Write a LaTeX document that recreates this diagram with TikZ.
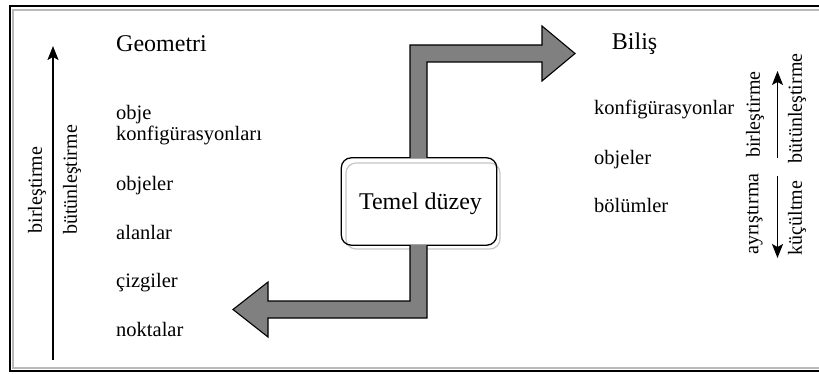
\documentclass[tikz,border=0pt]{standalone}
\usepackage{fontspec}
\setmainfont{Liberation Serif}
\usetikzlibrary{arrows.meta,calc}
\begin{document}
\begin{tikzpicture}[x=1pt,y=-1pt,
  big/.style={font=\fontsize{24}{26}\selectfont, inner sep=0pt},
  lbl/.style={font=\fontsize{20.5}{22}\selectfont, inner sep=0pt, anchor=base west},
  rot/.style={font=\fontsize{20}{22}\selectfont, inner sep=0pt, rotate=90},
  blockarrow/.style={draw=black, line width=1.1pt, fill=black!50, line join=miter},
  thinarrow/.style={line width=1.3pt, -{Stealth[length=14pt,width=11pt,inset=3pt]}}
]
\useasboundingbox (0,0) rectangle (819,374);
% frame
\draw[gray!55, line width=1.6pt] (819,10) -- (13,10) -- (13,368) -- (819,368);
\draw[black, line width=1.4pt] (819,6) -- (10,6) -- (10,371) -- (819,371);

% central box
\node[draw=none, fill=white, rounded corners=10pt, minimum width=155pt, minimum height=87pt] (box) at (419,201.5) {};
\draw[gray!45, line width=1.2pt, rounded corners=10pt] (346,163) rectangle (500,249);
\draw[black, line width=1.3pt, rounded corners=10pt] (box.north west) rectangle (box.south east);
\node[big, anchor=base] (temel) at (420.5,209.3) {Temel düzey};

% block arrows
\draw[blockarrow] ($(box.north)+(-9,0)$) -- (410,45) -- (542,45) -- (542,26) -- (575,53.5) -- (542,81) -- (542,62) -- (427,62) -- ($(box.north)+(8,0)$);
\draw[blockarrow] ($(box.south)+(8,0)$) -- (427,318) -- (268,318) -- (268,337) -- (233,309.5) -- (268,282) -- (268,301) -- (410,301) -- ($(box.south)+(-9,0)$);

% left column
\node[big, anchor=base west] (geo) at (116,51.7) {Geometri};
\node[lbl] (oc1) at (116,120) {obje};
\node[lbl] (oc2) at (116,140.7) {konfigürasyonları};
\node[lbl] (lobj) at (116,190.7) {objeler};
\node[lbl] (alan) at (116,239.3) {alanlar};
\node[lbl] (ciz) at (116,287.3) {çizgiler};
\node[lbl] (nokta) at (116,336.7) {noktalar};
\coordinate (la0) at (53,360);
\coordinate (la1) at (53,46);
\draw[thinarrow] (la0) -- (la1);
\node[rot] (lbir) at (37,190) {birleştirme};
\node[rot] (lbut) at (72,180) {bütünleştirme};

% right column
\node[big, anchor=base west] (bilis) at (611.7,50) {Biliş};
\node[lbl] (konf) at (594,115) {konfigürasyonlar};
\node[lbl] (robj) at (594,165) {objeler};
\node[lbl] (bol) at (594,213) {bölümler};
\coordinate (ru0) at (777.5,158);
\coordinate (ru1) at (777.5,71);
\coordinate (rd0) at (777.5,176);
\coordinate (rd1) at (777.5,258);
\draw[thinarrow] (ru0) -- (ru1);
\draw[thinarrow] (rd0) -- (rd1);
\node[rot] (rbir) at (755,114.5) {birleştirme};
\node[rot] (rbut) at (797,108.5) {bütünleştirme};
\node[rot] (ray) at (755,214) {ayrıştırma};
\node[rot] (rkuc) at (797,218) {küçültme};
\end{tikzpicture}
\end{document}
